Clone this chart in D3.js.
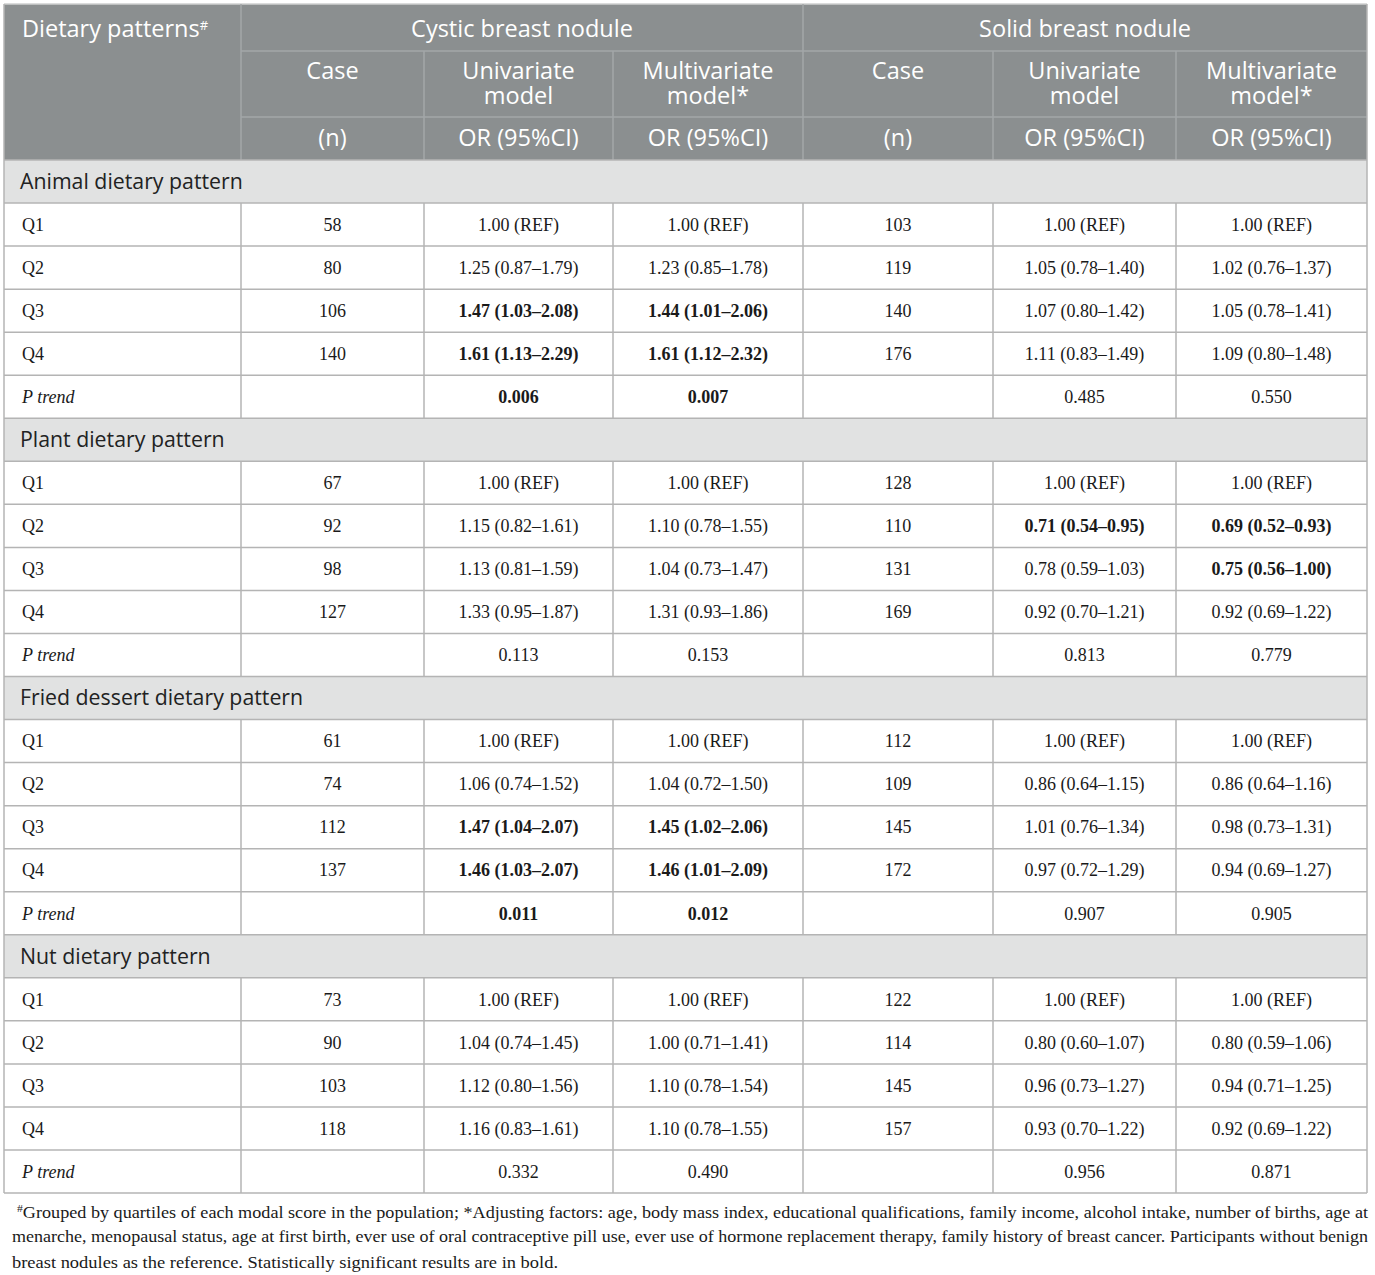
<!DOCTYPE html>
<html>
<head>
<meta charset="utf-8">
<script src="https://cdn.jsdelivr.net/npm/d3@7"></script>
<style>
  body { margin: 0; background: #fff; }
  svg text { fill: #1a1a1a; }
  .hdr { font-family: "Open Sans", sans-serif; font-size: 23.5px; fill: #fff; }
  .sec { font-family: "Open Sans", sans-serif; font-size: 21.3px; fill: #222; }
  .cell { font-family: "Liberation Serif", "Times New Roman", serif; font-size: 18px; fill: #1a1a1a; }
  .note { font-family: "Liberation Serif", "Times New Roman", serif; font-size: 17px; fill: #1a1a1a; }
</style>
</head>
<body>
<div id="chart"></div>
<script>
// ---- data ----
const patterns = ["Animal dietary pattern", "Plant dietary pattern", "Fried dessert dietary pattern", "Nut dietary pattern"];
const quartiles = ["Q1", "Q2", "Q3", "Q4"];

const cysticCases = [[58, 80, 106, 140], [67, 92, 98, 127], [61, 74, 112, 137], [73, 90, 103, 118]];
const cysticUni = [
  ["1.00 (REF)", "1.25 (0.87–1.79)", "1.47 (1.03–2.08)", "1.61 (1.13–2.29)"],
  ["1.00 (REF)", "1.15 (0.82–1.61)", "1.13 (0.81–1.59)", "1.33 (0.95–1.87)"],
  ["1.00 (REF)", "1.06 (0.74–1.52)", "1.47 (1.04–2.07)", "1.46 (1.03–2.07)"],
  ["1.00 (REF)", "1.04 (0.74–1.45)", "1.12 (0.80–1.56)", "1.16 (0.83–1.61)"]
];
const cysticMulti = [
  ["1.00 (REF)", "1.23 (0.85–1.78)", "1.44 (1.01–2.06)", "1.61 (1.12–2.32)"],
  ["1.00 (REF)", "1.10 (0.78–1.55)", "1.04 (0.73–1.47)", "1.31 (0.93–1.86)"],
  ["1.00 (REF)", "1.04 (0.72–1.50)", "1.45 (1.02–2.06)", "1.46 (1.01–2.09)"],
  ["1.00 (REF)", "1.00 (0.71–1.41)", "1.10 (0.78–1.54)", "1.10 (0.78–1.55)"]
];
const solidCases = [[103, 119, 140, 176], [128, 110, 131, 169], [112, 109, 145, 172], [122, 114, 145, 157]];
const solidUni = [
  ["1.00 (REF)", "1.05 (0.78–1.40)", "1.07 (0.80–1.42)", "1.11 (0.83–1.49)"],
  ["1.00 (REF)", "0.71 (0.54–0.95)", "0.78 (0.59–1.03)", "0.92 (0.70–1.21)"],
  ["1.00 (REF)", "0.86 (0.64–1.15)", "1.01 (0.76–1.34)", "0.97 (0.72–1.29)"],
  ["1.00 (REF)", "0.80 (0.60–1.07)", "0.96 (0.73–1.27)", "0.93 (0.70–1.22)"]
];
const solidMulti = [
  ["1.00 (REF)", "1.02 (0.76–1.37)", "1.05 (0.78–1.41)", "1.09 (0.80–1.48)"],
  ["1.00 (REF)", "0.69 (0.52–0.93)", "0.75 (0.56–1.00)", "0.92 (0.69–1.22)"],
  ["1.00 (REF)", "0.86 (0.64–1.16)", "0.98 (0.73–1.31)", "0.94 (0.69–1.27)"],
  ["1.00 (REF)", "0.80 (0.59–1.06)", "0.94 (0.71–1.25)", "0.92 (0.69–1.22)"]
];
// P trend: [cystic uni, cystic multi, solid uni, solid multi]
const pTrend = [
  ["0.006", "0.007", "0.485", "0.550"],
  ["0.113", "0.153", "0.813", "0.779"],
  ["0.011", "0.012", "0.907", "0.905"],
  ["0.332", "0.490", "0.956", "0.871"]
];
// significant cells: [pattern, row (0-3 quartile, 4 = P trend), column 1-6]
const boldCells = [
  [0, 2, 2], [0, 2, 3], [0, 3, 2], [0, 3, 3], [0, 4, 2], [0, 4, 3],
  [1, 1, 5], [1, 1, 6], [1, 2, 6],
  [2, 2, 2], [2, 2, 3], [2, 3, 2], [2, 3, 3], [2, 4, 2], [2, 4, 3]
];

const footnote = [
  "Grouped by quartiles of each modal score in the population; *Adjusting factors: age, body mass index, educational qualifications, family income, alcohol intake, number of births, age at",
  "menarche, menopausal status, age at first birth, ever use of oral contraceptive pill use, ever use of hormone replacement therapy, family history of breast cancer. Participants without benign",
  "breast nodules as the reference. Statistically significant results are in bold."
];

// ---- layout ----
const W = 1375, H = 1275;
const colEdges = [4, 241, 424, 613, 803, 993, 1176, 1367];
const headTop = 4, headRows = [4, 51, 117, 160];
const bodyTop = 160, bodyBottom = 1193;

// build row list
const rows = [];
patterns.forEach((p, pi) => {
  rows.push({ type: "section", label: p, pi });
  quartiles.forEach((q, qi) => {
    rows.push({
      type: "data", label: q, pi, ri: qi,
      cells: [cysticCases[pi][qi], cysticUni[pi][qi], cysticMulti[pi][qi],
              solidCases[pi][qi], solidUni[pi][qi], solidMulti[pi][qi]]
    });
  });
  rows.push({
    type: "data", label: "P trend", italic: true, pi, ri: 4,
    cells: ["", pTrend[pi][0], pTrend[pi][1], "", pTrend[pi][2], pTrend[pi][3]]
  });
});

const isBold = (pi, ri, ci) => boldCells.some(b => b[0] === pi && b[1] === ri && b[2] === ci);

const y = d3.scaleBand().domain(d3.range(rows.length)).range([bodyTop, bodyBottom]);
const x = d3.scaleOrdinal().domain(d3.range(colEdges.length)).range(colEdges);
const colMid = i => (x(i) + x(i + 1)) / 2;

const svg = d3.select("#chart").append("svg")
  .attr("width", W).attr("height", H);

const lineCol = "#b4b4b4";
const headLine = "#a3a7a8";

// header background
svg.append("rect")
  .attr("x", colEdges[0]).attr("y", headTop)
  .attr("width", colEdges[7] - colEdges[0]).attr("height", headRows[3] - headTop)
  .attr("fill", "#8b8f90");
svg.append("line")
  .attr("x1", colEdges[0]).attr("x2", colEdges[7])
  .attr("y1", headTop).attr("y2", headTop)
  .attr("stroke", "#cfd1d1").attr("stroke-width", 1.5);

// header lines
const hl = svg.append("g").attr("stroke", headLine).attr("stroke-width", 1.5);
hl.append("line").attr("x1", x(1)).attr("x2", x(1)).attr("y1", headRows[0]).attr("y2", headRows[3]);
hl.append("line").attr("x1", x(4)).attr("x2", x(4)).attr("y1", headRows[0]).attr("y2", headRows[3]);
[2, 3, 5, 6].forEach(c => {
  hl.append("line").attr("x1", x(c)).attr("x2", x(c)).attr("y1", headRows[1]).attr("y2", headRows[3]);
});
[1, 2].forEach(r => {
  hl.append("line").attr("x1", x(1)).attr("x2", x(7)).attr("y1", headRows[r]).attr("y2", headRows[r]);
});

// header text
const hdr = svg.append("g");
const t0 = hdr.append("text").attr("class", "hdr").attr("x", 22).attr("y", 29).attr("dy", "0.35em");
t0.append("tspan").text("Dietary patterns");
t0.append("tspan").attr("dy", "-0.55em").style("font-size", "13px").text("#");

hdr.append("text").attr("class", "hdr").attr("x", (x(1) + x(4)) / 2).attr("y", 29)
  .attr("dy", "0.35em").attr("text-anchor", "middle").text("Cystic breast nodule");
hdr.append("text").attr("class", "hdr").attr("x", (x(4) + x(7)) / 2).attr("y", 29)
  .attr("dy", "0.35em").attr("text-anchor", "middle").text("Solid breast nodule");

const subHeads = [["Case"], ["Univariate", "model"], ["Multivariate", "model*"]];
const unitHeads = ["(n)", "OR (95%CI)", "OR (95%CI)"];
d3.range(6).forEach(i => {
  const c = i + 1;
  const lines = subHeads[i % 3];
  const t = hdr.append("text").attr("class", "hdr").attr("text-anchor", "middle");
  lines.forEach((s, k) => {
    t.append("tspan").attr("x", colMid(c)).attr("y", 71 + k * 25).attr("dy", "0.35em").text(s);
  });
  hdr.append("text").attr("class", "hdr").attr("x", colMid(c)).attr("y", 138)
    .attr("dy", "0.35em").attr("text-anchor", "middle").text(unitHeads[i % 3]);
});

// body rows
const body = svg.append("g");
const rowG = body.selectAll("g.row").data(rows).join("g").attr("class", "row");

rowG.append("rect")
  .attr("x", colEdges[0]).attr("y", (d, i) => y(i))
  .attr("width", colEdges[7] - colEdges[0]).attr("height", y.bandwidth())
  .attr("fill", d => d.type === "section" ? "#e1e2e2" : "#fff");

rowG.filter(d => d.type === "section").append("text")
  .attr("class", "sec").attr("x", 20)
  .attr("y", d => y(rows.indexOf(d)) + y.bandwidth() / 2).attr("dy", "0.35em")
  .text(d => d.label);

const dataRows = rowG.filter(d => d.type === "data");
dataRows.append("text")
  .attr("class", "cell").attr("x", 22)
  .attr("y", d => y(rows.indexOf(d)) + y.bandwidth() / 2).attr("dy", "0.35em")
  .style("font-style", d => d.italic ? "italic" : "normal")
  .text(d => d.label);

dataRows.each(function (d) {
  const yy = y(rows.indexOf(d)) + y.bandwidth() / 2;
  d3.select(this).selectAll("text.val")
    .data(d.cells.map((v, k) => ({ v, c: k + 1 })))
    .join("text")
    .attr("class", "cell val")
    .attr("x", e => colMid(e.c)).attr("y", yy).attr("dy", "0.35em")
    .attr("text-anchor", "middle")
    .style("font-weight", e => isBold(d.pi, d.ri, e.c) ? "bold" : "normal")
    .text(e => e.v);
  // vertical grid lines
  d3.range(1, 7).forEach(c => {
    d3.select(this).append("line")
      .attr("x1", x(c)).attr("x2", x(c))
      .attr("y1", y(rows.indexOf(d))).attr("y2", y(rows.indexOf(d)) + y.bandwidth())
      .attr("stroke", lineCol).attr("stroke-width", 1.5);
  });
});

// horizontal lines
body.selectAll("line.h").data(d3.range(rows.length + 1)).join("line")
  .attr("class", "h")
  .attr("x1", colEdges[0]).attr("x2", colEdges[7])
  .attr("y1", i => i < rows.length ? y(i) : bodyBottom)
  .attr("y2", i => i < rows.length ? y(i) : bodyBottom)
  .attr("stroke", lineCol).attr("stroke-width", 1.5);

// outer borders
[colEdges[0], colEdges[7]].forEach(xx => {
  svg.append("line").attr("x1", xx).attr("x2", xx).attr("y1", headTop).attr("y2", bodyBottom)
    .attr("stroke", lineCol).attr("stroke-width", 1.5);
});

// footnote
const noteStart = [17, 12, 12], noteEnd = [1368, 1368, 558];
const note = svg.append("g");
footnote.forEach((line, i) => {
  const t = note.append("text").attr("class", "note").attr("x", noteStart[i]).attr("y", 1216 + i * 26);
  if (i === 0) {
    t.append("tspan").attr("dy", "-0.4em").style("font-size", "11px").text("#");
    t.append("tspan").attr("dy", "0.4em").text(line);
  } else {
    t.text(line);
  }
  t.attr("textLength", noteEnd[i] - noteStart[i]).attr("lengthAdjust", "spacingAndGlyphs");
});
</script>
</body>
</html>
